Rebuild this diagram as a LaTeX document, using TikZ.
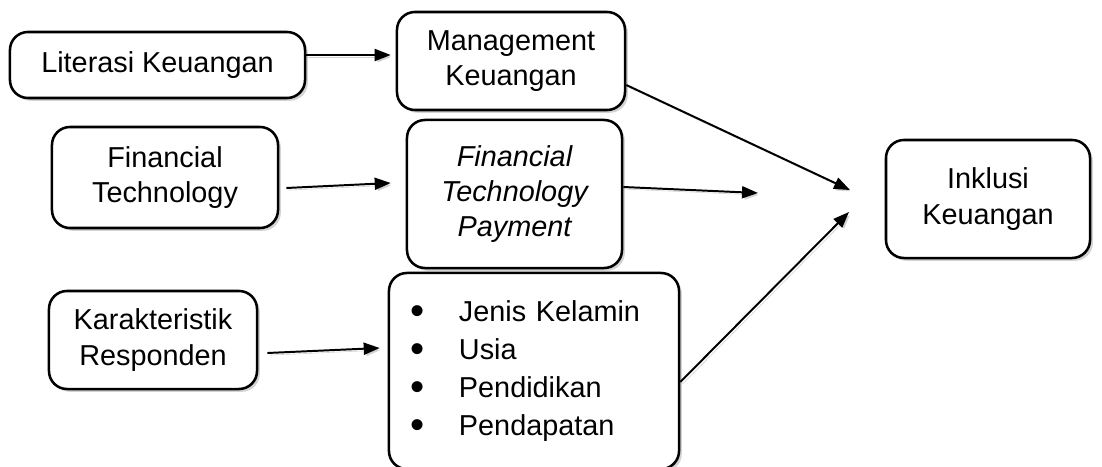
\documentclass[tikz,border=0pt]{standalone}
\usepackage{fontspec}
\usepackage{graphicx}
\setmainfont{Liberation Sans}
\usetikzlibrary{arrows.meta,shadows}
\tikzstyle{arrow} = [line width=1.4pt,-{Triangle[length=0.4cm,width=0.3cm]}, preaction={draw=black!18, transform canvas={xshift=1.5pt, yshift=-1.5pt}}]
\tikzstyle{varbox} = [rectangle, rounded corners=0.45cm, draw, line width=1.8pt, fill=white, align=center, drop shadow={shadow xshift=0.07cm, shadow yshift=-0.07cm, opacity=0.35}]
\newcommand{\itembullet}{\makebox[1.3cm][l]{\hspace{0.08cm}\raisebox{-0.1em}{\scalebox{1.4}{\textbullet}}}}

\begin{document}
\begin{tikzpicture}[x=0.025cm, y=-0.025cm, font=\fontsize{20.5}{25}\selectfont]
\useasboundingbox (0,0) rectangle (1102,466);
% Variables
\node[varbox, minimum width=7.375cm, minimum height=1.65cm] (literasi) at (157.5,65) {Literasi Keuangan};
\node[varbox, minimum width=5.7cm, minimum height=2.45cm] (manajemen) at (511,61) {Management\\Keuangan};
\node[varbox, minimum width=5.65cm, minimum height=2.525cm] (fintek) at (165,177.5) {Financial\\Technology};
\node[varbox, minimum width=5.375cm, minimum height=3.7cm, font=\fontsize{20.5}{25}\selectfont\itshape] (payment) at (514.5,194) {Financial\\Technology\\Payment};
\node[varbox, minimum width=5.2cm, minimum height=2.45cm] (karakter) at (153,340) {Karakteristik\\Responden};
\node[varbox, minimum width=7.25cm, minimum height=4.9cm, text width=6.35cm, align=left, font=\fontsize{20.5}{27}\selectfont] (aspek) at (534,371) {\itembullet Jenis Kelamin\\\itembullet Usia\\\itembullet Pendidikan\\\itembullet Pendapatan};
\node[varbox, minimum width=5.1cm, minimum height=2.95cm] (inklusi) at (988,199) {Inklusi\\Keuangan};

% Free arrow ends
\coordinate (mgmtend) at (850,190);
\coordinate (payend) at (758,193);
\coordinate (aspekend) at (849,212);

\draw[arrow] ([shift={(0,-10)}]literasi.east) -- ([shift={(-5,-6)}]manajemen.west);
\draw[arrow] ([shift={(7,10.5)}]fintek.east) -- ([shift={(-15,-11)}]payment.west);
\draw[arrow] ([shift={(9,13)}]karakter.east) -- ([shift={(-8,-23)}]aspek.west);
\draw[arrow] ([shift={(0,24)}]manajemen.east) -- (mgmtend);
\draw[arrow] ([shift={(0,-7)}]payment.east) -- (payend);
\draw[arrow] ([shift={(0,11)}]aspek.east) -- (aspekend);
\end{tikzpicture}
\end{document}
